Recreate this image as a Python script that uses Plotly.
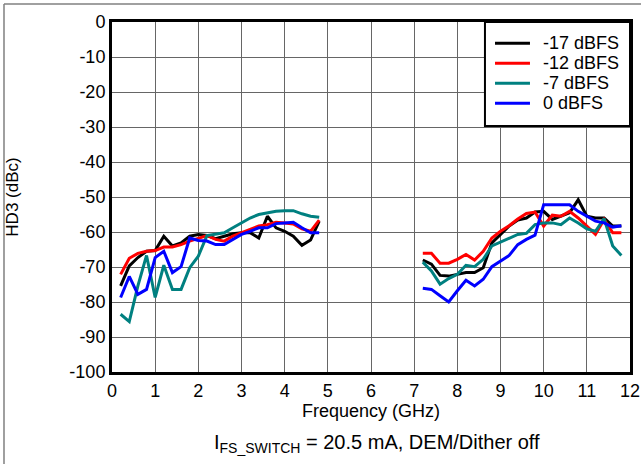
import plotly.graph_objects as go

# ---- data ----
freq_low = [0.2, 0.4, 0.6, 0.8, 1.0, 1.2, 1.4, 1.6, 1.8, 2.0, 2.2, 2.4,
            2.6, 2.8, 3.0, 3.2, 3.4, 3.6, 3.8, 4.0, 4.2, 4.4, 4.6, 4.8]
freq_high = [7.2, 7.4, 7.6, 7.8, 8.0, 8.2, 8.4, 8.6, 8.8, 9.0, 9.2, 9.4,
             9.6, 9.8, 10.0, 10.2, 10.4, 10.6, 10.8, 11.0, 11.2, 11.4, 11.6, 11.8]

m17_low = [-75.4, -69.7, -67.3, -65.5, -65.3, -61.2, -64.0, -63.1, -61.2, -60.7, -61.0, -61.9,
           -61.2, -60.5, -60.2, -60.2, -61.7, -55.5, -58.8, -59.8, -61.2, -63.8, -62.3, -56.9]
m12_low = [-72.1, -67.5, -66.1, -65.5, -65.3, -64.3, -64.3, -63.6, -62.6, -61.9, -61.0, -62.1,
           -62.6, -61.2, -60.2, -59.3, -58.3, -57.9, -57.2, -57.4, -57.7, -59.1, -59.8, -56.6]
m7_low = [-83.5, -85.6, -75.4, -66.7, -78.7, -69.5, -76.4, -76.4, -70.2, -66.9, -61.0, -60.7,
          -60.2, -58.8, -57.4, -56.0, -55.0, -54.5, -54.1, -53.9, -53.9, -54.8, -55.5, -55.8]
m0_low = [-78.7, -72.7, -77.8, -76.4, -67.3, -65.5, -71.6, -69.9, -61.7, -62.4, -62.6, -63.6,
          -63.6, -62.1, -60.7, -59.8, -58.8, -58.8, -57.6, -57.4, -57.2, -58.8, -60.2, -60.2]

m17_high = [-68.0, -69.2, -72.4, -72.6, -72.1, -71.6, -71.6, -70.2, -63.1, -60.7, -58.3, -56.6,
            -56.0, -54.3, -54.1, -56.4, -55.5, -54.5, -50.8, -55.5, -56.0, -56.0, -58.3, -58.3]
m12_high = [-66.1, -66.1, -68.9, -68.9, -67.8, -66.4, -68.0, -65.5, -61.7, -59.8, -58.2, -56.3,
            -54.7, -54.3, -58.3, -55.2, -55.5, -54.1, -56.0, -58.3, -60.7, -56.4, -60.2, -60.2]
m7_high = [-68.6, -71.1, -74.9, -73.3, -72.1, -69.5, -69.9, -67.8, -64.0, -62.9, -61.7, -60.7,
           -60.4, -57.9, -57.4, -57.4, -57.9, -56.0, -57.4, -59.1, -59.8, -56.2, -64.0, -66.7]
m0_high = [-76.1, -76.4, -78.2, -80.0, -76.8, -73.8, -75.4, -73.5, -69.9, -68.3, -66.7, -63.6,
           -62.1, -60.9, -52.2, -52.2, -52.2, -52.2, -54.1, -55.5, -56.9, -57.4, -58.6, -58.2]

series_names = ["-17 dBFS", "-12 dBFS", "-7 dBFS", "0 dBFS"]
series_low = [m17_low, m12_low, m7_low, m0_low]
series_high = [m17_high, m12_high, m7_high, m0_high]
series_colors = ["#000000", "#FF0000", "#008080", "#0000FF"]

x_tickvals = [0, 1, 2, 3, 4, 5, 6, 7, 8, 9, 10, 11, 12]
x_ticktext = ["0", "1", "2", "3", "4", "5", "6", "7", "8", "9", "10", "11", "12"]
y_tickvals = [0, -10, -20, -30, -40, -50, -60, -70, -80, -90, -100]
y_ticktext = ["0", "-10", "-20", "-30", "-40", "-50", "-60", "-70", "-80", "-90", "-100"]

FONT = "Liberation Sans, Arial, sans-serif"

fig = go.Figure()
for name, lo, hi, col in zip(series_names, series_low, series_high, series_colors):
    fig.add_trace(go.Scatter(
        x=freq_low + [None] + freq_high,
        y=lo + [None] + hi,
        mode="lines", name=name,
        line=dict(color=col, width=3),
        connectgaps=False, showlegend=False,
    ))

axis_common = dict(
    showline=True, linecolor="black", linewidth=3, mirror=True,
    showgrid=True, gridcolor="#666666", gridwidth=1,
    zeroline=False, ticks="", automargin=False,
    tickfont=dict(family=FONT, size=18, color="black"),
)

fig.update_xaxes(range=[0, 12], tickmode="array", tickvals=x_tickvals, ticktext=x_ticktext,
                 title=dict(text="Frequency (GHz)", font=dict(family=FONT, size=18, color="black"), standoff=4),
                 **axis_common)
fig.update_yaxes(range=[-100, 0], tickmode="array", tickvals=y_tickvals, ticktext=y_ticktext,
                 title=dict(text="HD3 (dBc)", font=dict(family=FONT, size=17, color="black"), standoff=47),
                 **axis_common)

fig.update_layout(
    width=641, height=464,
    margin=dict(l=112, r=11, t=22, b=92, autoexpand=False),
    paper_bgcolor="white", plot_bgcolor="white",
    font=dict(family=FONT, color="black"),
    showlegend=False,
)

# ---- legend box (boxed key in the top-right corner) ----
fig.add_shape(type="rect", xref="paper", yref="paper", x0=0.72, x1=1.0, y0=0.703, y1=1.0,
              fillcolor="white", line=dict(color="black", width=2), layer="above")
legend_rows_y = [0.939, 0.882, 0.825, 0.768]
for name, col, ry in zip(series_names, series_colors, legend_rows_y):
    fig.add_shape(type="line", xref="paper", yref="paper", x0=0.7394, x1=0.8069, y0=ry, y1=ry,
                  line=dict(color=col, width=3), layer="above")
    fig.add_annotation(text=name, xref="paper", yref="paper", x=0.8282, y=ry,
                       xanchor="left", yanchor="middle", showarrow=False,
                       font=dict(family=FONT, size=18, color="black"))

fig.add_annotation(
    text="I<sub>FS_SWITCH</sub> = 20.5 mA, DEM/Dither off",
    xref="paper", yref="paper", x=0.5116, y=-0.203,
    xanchor="center", yanchor="middle", showarrow=False,
    font=dict(family=FONT, size=20, color="black"),
)

# outer frame (left and top edges)
fig.add_shape(type="line", xref="paper", yref="paper", x0=-0.2085, x1=-0.2085, y0=-0.27, y1=1.0514,
              line=dict(color="#808080", width=1.5))
fig.add_shape(type="line", xref="paper", yref="paper", x0=-0.2085, x1=1.03, y0=1.0514, y1=1.0514,
              line=dict(color="#808080", width=1.5))

fig.write_html("out.html", config={"displayModeBar": False},
               post_script="document.body.style.margin='0';document.body.style.overflow='hidden';")
